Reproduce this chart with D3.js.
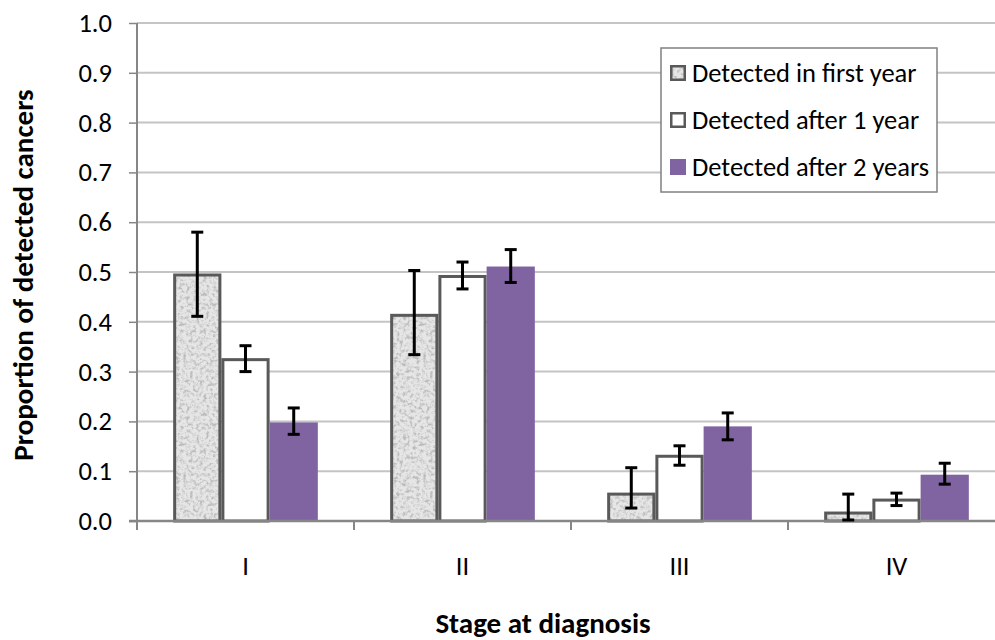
<!DOCTYPE html>
<html>
<head>
<meta charset="utf-8">
<script src="https://cdn.jsdelivr.net/npm/d3@7"></script>
<style>
  body { margin: 0; background: #fff; }
  svg { display: block; font-family: Carlito, Calibri, "Open Sans", sans-serif; }
</style>
</head>
<body>
<svg id="chart" width="995" height="640" viewBox="0 0 995 640"></svg>
<script>
// --- Data ---
const stages = ["I", "II", "III", "IV"];
const seriesNames = ["Detected in first year", "Detected after 1 year", "Detected after 2 years"];
const firstYear = [0.497, 0.416, 0.057, 0.019];
const firstYearLow = [0.411, 0.334, 0.026, 0.002];
const firstYearHigh = [0.580, 0.503, 0.107, 0.054];
const after1 = [0.327, 0.494, 0.133, 0.045];
const after1Low = [0.300, 0.466, 0.112, 0.031];
const after1High = [0.352, 0.520, 0.151, 0.056];
const after2 = [0.198, 0.511, 0.190, 0.093];
const after2Low = [0.174, 0.479, 0.163, 0.074];
const after2High = [0.227, 0.545, 0.217, 0.116];
const yTicks = [0, 0.1, 0.2, 0.3, 0.4, 0.5, 0.6, 0.7, 0.8, 0.9, 1.0];

const values = [firstYear, after1, after2];
const lows = [firstYearLow, after1Low, after2Low];
const highs = [firstYearHigh, after1High, after2High];

const svg = d3.select("#chart");
const font = "Carlito, Calibri, 'Open Sans', sans-serif";
const margin = { left: 137, right: -10, top: 23, bottom: 119 };
const width = 995, height = 640;
const x0 = margin.left, x1 = width - margin.right;
const yTop = margin.top, yBot = height - margin.bottom;

// --- Defs: speckled gray fill ---
const defs = svg.append("defs");
const filt = defs.append("filter").attr("id", "speckle")
  .attr("x", 0).attr("y", 0).attr("width", "100%").attr("height", "100%")
  .attr("filterUnits", "objectBoundingBox");
filt.append("feTurbulence").attr("type", "fractalNoise")
  .attr("baseFrequency", 0.3).attr("numOctaves", 3).attr("seed", 4).attr("result", "noise");
filt.append("feColorMatrix").attr("in", "noise").attr("type", "matrix")
  .attr("values", "0 0 0 0 0.5  0 0 0 0 0.5  0 0 0 0 0.5  -2.2 -2.2 0 0 2.4")
  .attr("result", "dots");
filt.append("feComposite").attr("in", "dots").attr("in2", "SourceGraphic").attr("operator", "atop");

const pat = defs.append("pattern").attr("id", "texture")
  .attr("patternUnits", "userSpaceOnUse").attr("width", 120).attr("height", 120);
pat.append("rect").attr("width", 120).attr("height", 120).attr("fill", "#e6e6e6")
  .attr("filter", "url(#speckle)");

// --- Scales ---
const x = d3.scaleBand().domain(stages).range([x0, x1]).paddingInner(0).paddingOuter(0);
const y = d3.scaleLinear().domain([0, 1]).range([yBot, yTop]);
// gap width 150%: group = 3 bars, gap = 1.5 bar
const barW = x.bandwidth() / 4.5;
const groupOffset = (x.bandwidth() - 3 * barW) / 2;

// --- Gridlines ---
svg.append("g").selectAll("line").data(yTicks.slice(1)).join("line")
  .attr("x1", x0).attr("x2", x1)
  .attr("y1", d => y(d)).attr("y2", d => y(d))
  .attr("stroke", "#c4c4c4").attr("stroke-width", 2);

// --- Y axis ---
const yAxis = svg.append("g").attr("transform", `translate(${x0},0)`)
  .call(d3.axisLeft(y).tickValues(yTicks).tickFormat(d3.format(".1f")).tickSize(8).tickPadding(17));
yAxis.select(".domain").attr("stroke", "#868686").attr("stroke-width", 2).attr("d", `M0,${yTop}V${yBot}`);
yAxis.selectAll(".tick line").attr("stroke", "#868686").attr("stroke-width", 1.5);
yAxis.selectAll(".tick text").attr("font-size", 26.5).attr("fill", "#000").attr("font-family", font);

// --- Bars ---
const styles = [
  { fill: "url(#texture)", stroke: "#595959", sw: 3 },
  { fill: "#ffffff", stroke: "#595959", sw: 3 },
  { fill: "#8064a2", stroke: "none", sw: 0 }
];
const bars = svg.append("g");
values.forEach((vals, s) => {
  bars.selectAll(null).data(stages).join("rect")
    .attr("x", d => x(d) + groupOffset + s * barW + styles[s].sw / 2)
    .attr("y", (d, i) => y(vals[i]) + styles[s].sw / 2)
    .attr("width", barW - styles[s].sw)
    .attr("height", (d, i) => y(0) - y(vals[i]) - styles[s].sw / 2)
    .attr("fill", styles[s].fill)
    .attr("stroke", styles[s].stroke)
    .attr("stroke-width", styles[s].sw);
});

// --- X axis ---
const xAxis = svg.append("g").attr("transform", `translate(0,${yBot})`)
  .call(d3.axisBottom(x).tickSize(0).tickPadding(35));
xAxis.select(".domain").attr("stroke", "#868686").attr("stroke-width", 2.5).attr("d", `M${x0 - 8},0H${x1}`);
xAxis.selectAll(".tick text").attr("font-size", 26.5).attr("fill", "#000").attr("font-family", font);
svg.append("g").selectAll("line").data(stages).join("line")
  .attr("x1", d => x(d)).attr("x2", d => x(d))
  .attr("y1", yBot).attr("y2", yBot + 9)
  .attr("stroke", "#868686").attr("stroke-width", 2);

// --- Error bars ---
const err = svg.append("g").attr("stroke", "#000").attr("stroke-width", 3);
values.forEach((vals, s) => {
  stages.forEach((st, i) => {
    const cx = x(st) + groupOffset + s * barW + barW / 2;
    err.append("line").attr("x1", cx).attr("x2", cx).attr("y1", y(lows[s][i])).attr("y2", y(highs[s][i]));
    [lows[s][i], highs[s][i]].forEach(v => {
      err.append("line").attr("x1", cx - 6).attr("x2", cx + 6).attr("y1", y(v)).attr("y2", y(v));
    });
  });
});

// --- Axis titles ---
svg.append("text").attr("x", 543).attr("y", 633).attr("text-anchor", "middle")
  .attr("font-size", 29).attr("font-weight", "bold").text("Stage at diagnosis");
svg.append("text").attr("transform", "translate(33,275) rotate(-90)").attr("text-anchor", "middle")
  .attr("font-size", 29).attr("font-weight", "bold").text("Proportion of detected cancers");

// --- Legend ---
const lg = svg.append("g").attr("transform", "translate(661,48)");
lg.append("rect").attr("width", 276).attr("height", 144)
  .attr("fill", "#fff").attr("stroke", "#808080").attr("stroke-width", 1.5);
seriesNames.forEach((name, s) => {
  const cy = 25 + s * 47;
  const sw = s === 2 ? 0 : 2.5;
  lg.append("rect").attr("x", 9 + sw / 2).attr("y", cy - 8 + sw / 2)
    .attr("width", 16 - sw).attr("height", 16 - sw)
    .attr("fill", styles[s].fill).attr("stroke", styles[s].stroke).attr("stroke-width", sw);
  lg.append("text").attr("x", 31).attr("y", cy).attr("dy", "0.35em")
    .attr("font-size", 26.5).text(name);
});
</script>
</body>
</html>
